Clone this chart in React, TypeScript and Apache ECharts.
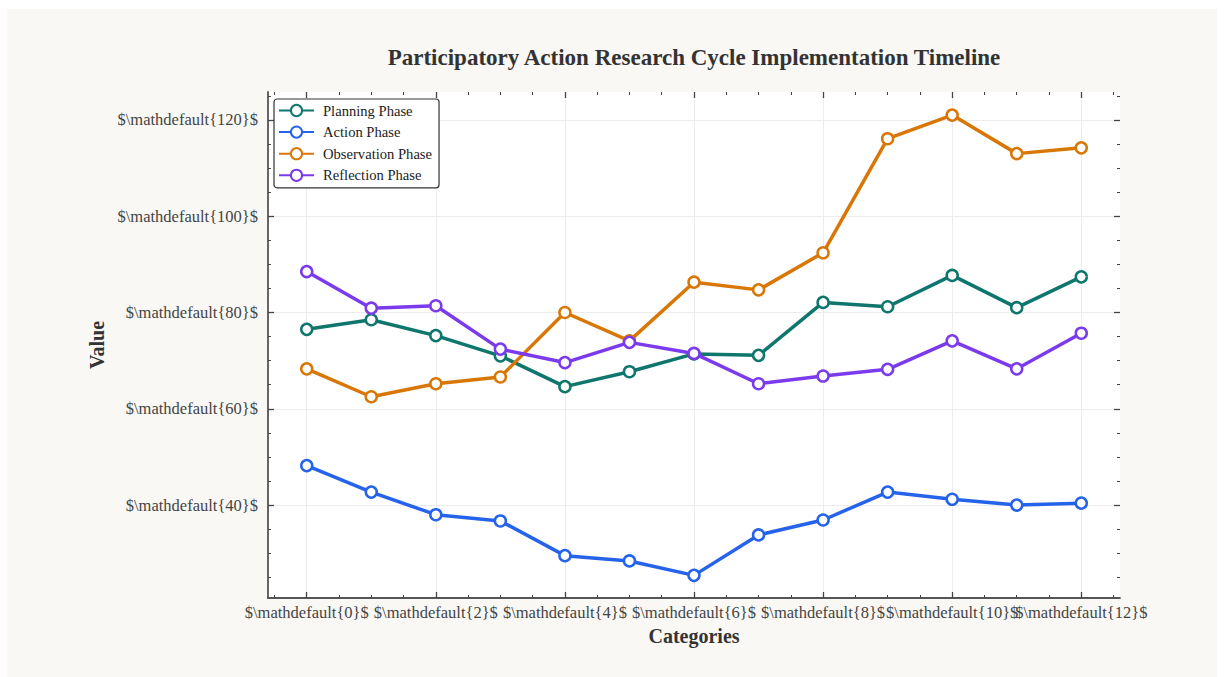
import React, { useEffect, useRef } from "react";
import * as echarts from "echarts";

const xValues = [0, 1, 2, 3, 4, 5, 6, 7, 8, 9, 10, 11, 12];
const planning = [76.5, 78.5, 75.2, 71.0, 64.6, 67.7, 71.4, 71.1, 82.1, 81.2, 87.7, 81.0, 87.4];
const action = [48.2, 42.7, 38.0, 36.7, 29.5, 28.4, 25.4, 33.8, 36.9, 42.7, 41.2, 40.0, 40.4];
const observation = [68.3, 62.5, 65.2, 66.6, 80.0, 74.1, 86.3, 84.7, 92.4, 116.1, 121.0, 113.0, 114.2];
const reflection = [88.5, 80.9, 81.4, 72.4, 69.6, 73.8, 71.5, 65.2, 66.8, 68.2, 74.1, 68.3, 75.7];

const seriesNames = ["Planning Phase", "Action Phase", "Observation Phase", "Reflection Phase"];
const seriesColors = ["#0f766e", "#2563eb", "#d97706", "#7c3aed"];

const xMajorTicks = [0, 2, 4, 6, 8, 10, 12];
const xLabelsA = [0, 4, 8, 12];
const xLabelsB = [2, 6, 10];
const xMinorTicks = [-0.5, 0.5, 1, 1.5, 2.5, 3, 3.5, 4.5, 5, 5.5, 6.5, 7, 7.5, 8.5, 9, 9.5, 10.5, 11, 11.5, 12.5];
const yMajorTicks = [40, 60, 80, 100, 120];
const yMinorTicks = [25, 30, 35, 45, 50, 55, 65, 70, 75, 85, 90, 95, 105, 110, 115, 125];

const X_MIN = -0.6;
const X_MAX = 12.6;
const Y_MIN = 20.7;
const Y_MAX = 125.8;

const FONT = "'Liberation Serif', 'DejaVu Serif', serif";
const TICK_COLOR = "#444";
const LABEL_COLOR = "#444";

export default function App() {
  const ref = useRef<HTMLDivElement>(null);

  useEffect(() => {
    if (!ref.current) return;
    const chart = echarts.init(ref.current, null, { renderer: "svg" });

    const fmt = (v: number) => `$\\mathdefault{${Math.round(v)}}$`;

    const labelStyle = (values: number[], margin: number) => ({
      show: true,
      customValues: values,
      formatter: fmt,
      fontFamily: FONT,
      fontSize: 16.5,
      color: LABEL_COLOR,
      margin,
      hideOverlap: false,
      showMinLabel: true,
      showMaxLabel: true,
    });

    const tickAxis = (
      kind: "x" | "y",
      position: string,
      values: number[],
      len: number,
      axisLabel: any = { show: false }
    ) => ({
      type: "value",
      position,
      min: kind === "x" ? X_MIN : Y_MIN,
      max: kind === "x" ? X_MAX : Y_MAX,
      axisLine: { show: false, onZero: false },
      axisTick: {
        show: true,
        inside: true,
        length: len,
        customValues: values,
        lineStyle: { color: TICK_COLOR, width: len > 4 ? 1.3 : 1 },
      },
      axisLabel,
      splitLine: { show: false },
    });

    const xAxes: any[] = [
      {
        type: "value",
        position: "bottom",
        min: X_MIN,
        max: X_MAX,
        name: "Categories",
        nameLocation: "middle",
        nameGap: 27,
        nameTextStyle: { fontFamily: FONT, fontSize: 20, fontWeight: "bold", color: "#333" },
        axisLine: { show: true, onZero: false, lineStyle: { color: "#555", width: 1.8 } },
        axisTick: {
          show: true,
          inside: true,
          length: 6,
          customValues: xMajorTicks,
          lineStyle: { color: TICK_COLOR, width: 1.3 },
        },
        axisLabel: labelStyle(xLabelsA, 6),
        splitLine: { show: true, lineStyle: { color: "#ececec", width: 1 } },
      },
      tickAxis("x", "bottom", xMinorTicks, 3, labelStyle(xLabelsB, 6)),
      tickAxis("x", "top", xMajorTicks, 6),
      tickAxis("x", "top", xMinorTicks, 3),
    ];

    const yAxes: any[] = [
      {
        type: "value",
        position: "left",
        min: Y_MIN,
        max: Y_MAX,
        name: "Value",
        nameLocation: "middle",
        nameGap: 157,
        nameRotate: 90,
        nameTextStyle: { fontFamily: FONT, fontSize: 20, fontWeight: "bold", color: "#333" },
        axisLine: { show: true, onZero: false, lineStyle: { color: "#555", width: 1.8 } },
        axisTick: {
          show: true,
          inside: true,
          length: 6,
          customValues: yMajorTicks,
          lineStyle: { color: TICK_COLOR, width: 1.3 },
        },
        axisLabel: labelStyle(yMajorTicks, 10),
        splitLine: { show: true, lineStyle: { color: "#ececec", width: 1 } },
      },
      tickAxis("y", "left", yMinorTicks, 3),
      tickAxis("y", "right", yMajorTicks, 6),
      tickAxis("y", "right", yMinorTicks, 3),
    ];

    const allData = [planning, action, observation, reflection];

    const series = allData.map((vals, i) => ({
      name: seriesNames[i],
      type: "line",
      xAxisIndex: 0,
      yAxisIndex: 0,
      data: xValues.map((x, j) => [x, vals[j]]),
      color: seriesColors[i],
      symbol: "circle",
      symbolSize: 11,
      showSymbol: true,
      lineStyle: { color: seriesColors[i], width: 3.5 },
      itemStyle: { color: "#ffffff", borderColor: seriesColors[i], borderWidth: 2.5 },
      emphasis: { disabled: true },
      z: 2 + i,
    }));

    chart.setOption({
      animation: false,
      backgroundColor: "transparent",
      graphic: [
        {
          type: "rect",
          shape: { x: 7, y: 9, width: 1210, height: 668 },
          style: { fill: "#f9f8f4" },
          z: -10,
          silent: true,
        },
      ],
      title: {
        text: "Participatory Action Research Cycle Implementation Timeline",
        left: 694,
        top: 46,
        textAlign: "center",
        padding: 0,
        textStyle: { fontFamily: FONT, fontSize: 23, fontWeight: "bold", color: "#333" },
      },
      legend: {
        orient: "vertical",
        left: 274,
        top: 99,
        padding: [4, 7, 5, 4],
        itemWidth: 35,
        itemHeight: 14,
        itemGap: 6.6,
        backgroundColor: "#ffffff",
        borderColor: "#333",
        borderWidth: 1.2,
        borderRadius: 3,
        textStyle: { fontFamily: FONT, fontSize: 14.6, lineHeight: 14, color: "#222", padding: [0, 0, 0, 4] },
        data: seriesNames,
      },
      grid: {
        left: 268,
        top: 92,
        right: 105,
        bottom: 79,
        show: true,
        backgroundColor: "#ffffff",
        borderWidth: 0,
        containLabel: false,
      },
      xAxis: xAxes,
      yAxis: yAxes,
      series,
    });

    return () => chart.dispose();
  }, []);

  return (
    <div
      ref={ref}
      style={{
        position: "fixed",
        left: 0,
        top: 0,
        width: 1225,
        height: 677,
        background: "#ffffff",
      }}
    />
  );
}
